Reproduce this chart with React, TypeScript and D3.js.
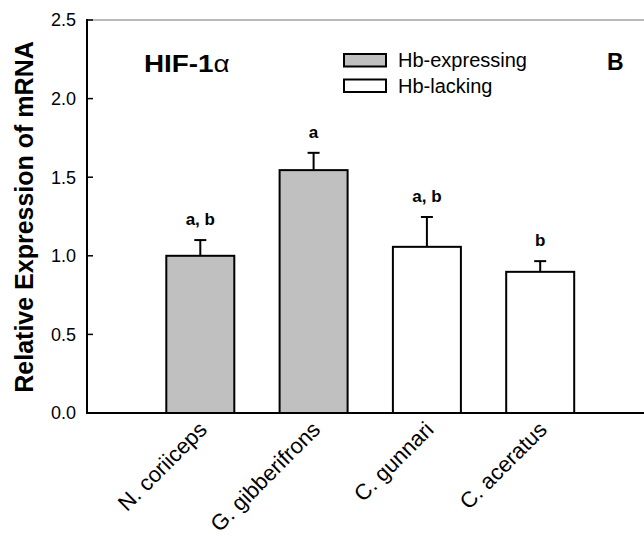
import React from "react";
import * as d3 from "d3";

const categories = ["N. coriiceps", "G. gibberifrons", "C. gunnari", "C. aceratus"];
const values = [1.0, 1.545, 1.057, 0.898];
const errors = [0.1, 0.11, 0.19, 0.068];
const groups = ["Hb-expressing", "Hb-expressing", "Hb-lacking", "Hb-lacking"];
const sigLabels = ["a, b", "a", "a, b", "b"];
const yTicks = [0, 0.5, 1.0, 1.5, 2.0, 2.5];
const legendItems = ["Hb-expressing", "Hb-lacking"];
const groupFill: Record<string, string> = { "Hb-expressing": "#c0c0c0", "Hb-lacking": "#ffffff" };

const FONT = "'Liberation Sans', Arial, sans-serif";

export default function App() {
  const W = 644, H = 541;
  const left = 87, top = 20, bottom = 413;
  const step = 113.3;
  const barW = 68;
  const x = d3.scaleLinear().domain([0, 5]).range([left, left + step * 5]);
  const cx = (i: number) => x(i + 1);
  const y = d3.scaleLinear().domain([0, 2.5]).range([bottom, top]);

  return (
    <svg width={W} height={H} style={{ position: "absolute", left: 0, top: 0, background: "#fff" }}>
      {/* top frame */}
      <line x1={left} x2={W} y1={top} y2={top} stroke="#777" strokeWidth={1} />
      {/* bars */}
      {categories.map((c, i) => {
        const v = values[i];
        const e = errors[i];
        const xc = cx(i);
        return (
          <g key={c}>
            <line x1={xc} x2={xc} y1={y(v)} y2={y(v + e)} stroke="#000" strokeWidth={2} />
            <line x1={xc - 6} x2={xc + 6} y1={y(v + e)} y2={y(v + e)} stroke="#000" strokeWidth={2} />
            <rect x={xc - barW / 2} y={y(v)} width={barW} height={y(0) - y(v)}
              fill={groupFill[groups[i]]} stroke="#000" strokeWidth={2} />
            <text x={xc} y={y(v + e) - 15} textAnchor="middle" fontFamily={FONT}
              fontWeight="bold" fontSize={17} fill="#000">{sigLabels[i]}</text>
            <text transform={`translate(${xc + 8},${bottom + 18}) rotate(-45)`} textAnchor="end"
              fontFamily={FONT} fontSize={22} fill="#000">{c}</text>
          </g>
        );
      })}
      {/* axes */}
      <line x1={left} x2={left} y1={top - 1} y2={bottom + 1} stroke="#000" strokeWidth={2} />
      <line x1={left - 1} x2={W} y1={bottom} y2={bottom} stroke="#000" strokeWidth={2} />
      {yTicks.map((t) => (
        <g key={t}>
          <line x1={left} x2={left + 6} y1={y(t)} y2={y(t)} stroke="#000" strokeWidth={1.5} />
          <text x={76} y={y(t)} dy="0.36em" textAnchor="end" fontFamily={FONT}
            fontSize={18} fill="#000">{t.toFixed(1)}</text>
        </g>
      ))}
      <text transform={`translate(33,217) rotate(-90)`} textAnchor="middle"
        fontFamily={FONT} fontWeight="bold" fontSize={25} fill="#000">Relative Expression of mRNA</text>
      {/* title */}
      <text x={144} y={72} fontFamily={FONT} fontWeight="bold" fontSize={24} fill="#000"
        transform="translate(144,0) scale(1.16,1) translate(-144,0)">
        HIF-1<tspan fontWeight="normal" fontSize={24}>α</tspan>
      </text>
      <text x={607} y={70} fontFamily={FONT} fontWeight="bold" fontSize={23} fill="#000">B</text>
      {/* legend */}
      {legendItems.map((g, i) => (
        <g key={g}>
          <rect x={344} y={54 + i * 25.5} width={42} height={12.5} fill={groupFill[g]} stroke="#000" strokeWidth={2} />
          <text x={398} y={67 + i * 25.5} fontFamily={FONT} fontSize={20} fill="#000">{g}</text>
        </g>
      ))}
    </svg>
  );
}
